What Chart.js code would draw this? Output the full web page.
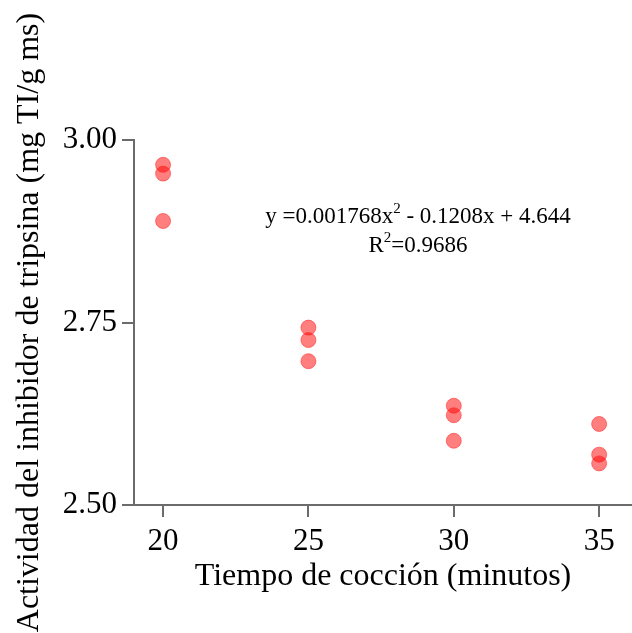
<!DOCTYPE html>
<html>
<head>
<meta charset="utf-8">
<script src="https://cdn.jsdelivr.net/npm/chart.js@4"></script>
<style>
    html, body { margin: 0; padding: 0; background: #ffffff; }
    #wrap { width: 632px; height: 633px; }
</style>
</head>
<body>
<div id="wrap"><canvas id="scatter"></canvas></div>
<script>
// cooking time (minutes) and measured trypsin inhibitor activity
const tiempo = [20, 20, 20, 25, 25, 25, 30, 30, 30, 35, 35, 35];
const actividad = [2.966, 2.954, 2.889, 2.743, 2.726, 2.697, 2.636, 2.623, 2.588, 2.611, 2.569, 2.557];
const xTicks = [20, 25, 30, 35];
const yTicks = [2.50, 2.75, 3.00];

const xTitle = "Tiempo de cocción (minutos)";
const yTitle = "Actividad del inhibidor de tripsina (mg TI/g ms)";
// equation pieces: [text, superscript?]
const eqLine1 = [["y =0.001768x", false], ["2", true], [" - 0.1208x + 4.644", false]];
const eqLine2 = [["R", false], ["2", true], ["=0.9686", false]];

const serif = "'Liberation Serif', 'DejaVu Serif', serif";
const axisGrey = "#6b6b6b";

let points = tiempo.map((t, i) => { return { x: t, y: actividad[i] }; });

// draws the fitted equation text with superscripts
const equationPlugin = {
    id: "equation",
    afterDraw(chart){
        let ctx = chart.ctx;
        let drawLine = (parts, cx, baseY) => {
            let widths = parts.map((p) => {
                ctx.font = p[1] ? `15px ${serif}` : `23px ${serif}`;
                return ctx.measureText(p[0]).width;
            });
            let total = widths.reduce((a, b) => a + b, 0);
            let x = cx - total / 2;
            ctx.fillStyle = "#000000";
            ctx.textBaseline = "alphabetic";
            ctx.textAlign = "left";
            parts.forEach((p, i) => {
                ctx.font = p[1] ? `15px ${serif}` : `23px ${serif}`;
                ctx.fillText(p[0], x, p[1] ? baseY - 10 : baseY);
                x += widths[i];
            });
        };
        ctx.save();
        drawLine(eqLine1, 418, 223);
        drawLine(eqLine2, 418, 252);
        ctx.restore();
    }
};

new Chart("scatter", {
    type: "scatter",
    data: {
        datasets: [{
            data: points,
            backgroundColor: "rgba(255, 0, 0, 0.5)",
            borderColor: "rgba(255, 40, 40, 0.55)",
            borderWidth: 1,
            pointRadius: 7.5,
        }],
    },
    options: {
        responsive: true,
        maintainAspectRatio: false,
        animation: false,
        layout: {
            autoPadding: false,
            padding: { top: 140, right: 0, bottom: 0, left: 0 },
        },
        plugins: {
            legend: { display: false },
            tooltip: { enabled: false },
        },
        scales: {
            x: {
                type: "linear",
                min: 19,
                max: 36.13,
                afterBuildTicks: (scale) => { scale.ticks = xTicks.map((v) => { return { value: v }; }); },
                afterFit: (scale) => {
                    scale.height = 128;
                    scale.paddingLeft = 0;
                    scale.paddingRight = 0;
                },
                grid: {
                    drawOnChartArea: false,
                    drawTicks: true,
                    tickLength: 12,
                    color: axisGrey,
                    lineWidth: 2,
                },
                border: { display: true, color: axisGrey, width: 2 },
                ticks: {
                    color: "#000000",
                    padding: 6,
                    font: { family: serif, size: 31 },
                },
                title: {
                    display: true,
                    text: xTitle,
                    color: "#000000",
                    font: { family: serif, size: 32 },
                    padding: { top: 0, bottom: 37 },
                },
            },
            y: {
                type: "linear",
                min: 2.5,
                max: 3.0,
                afterBuildTicks: (scale) => { scale.ticks = yTicks.map((v) => { return { value: v }; }); },
                afterFit: (scale) => {
                    scale.width = 134;
                    scale.paddingTop = 0;
                    scale.paddingBottom = 0;
                },
                grid: {
                    drawOnChartArea: false,
                    drawTicks: true,
                    tickLength: 12,
                    color: axisGrey,
                    lineWidth: 2,
                },
                border: { display: true, color: axisGrey, width: 2 },
                ticks: {
                    color: "#000000",
                    padding: 5,
                    font: { family: serif, size: 31 },
                    callback: (v) => v.toFixed(2),
                },
                title: {
                    display: true,
                    text: yTitle,
                    color: "#000000",
                    font: { family: serif, size: 32 },
                    padding: { top: 10, bottom: 0 },
                },
            },
        },
    },
    plugins: [equationPlugin],
});
</script>
</body>
</html>
